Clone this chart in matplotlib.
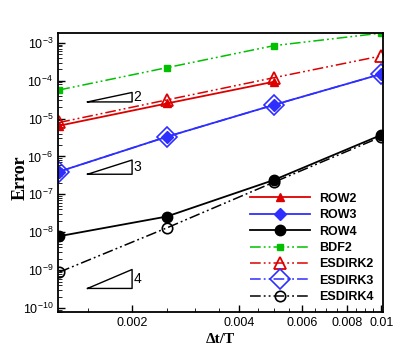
import matplotlib
matplotlib.use('Agg')
import matplotlib.pyplot as plt
import matplotlib.ticker as mticker
import numpy as np

# data
dt = [0.00125, 0.0025, 0.005, 0.01]
row2 = [6.5e-6, 2.5e-5, 9.4e-5]
row3 = [4.0e-7, 3.3e-6, 2.3e-5, 1.5e-4]
row4 = [7.9e-9, 2.6e-8, 2.4e-7, 3.7e-6]
bdf2 = [5.7e-5, 2.2e-4, 8.4e-4, 1.8e-3]
esdirk2 = [7.9e-6, 3.1e-5, 1.2e-4, 4.5e-4]
esdirk3 = [4.0e-7, 3.3e-6, 2.3e-5, 1.5e-4]
esdirk4 = [8.9e-10, 1.3e-8, 2.1e-7, 3.3e-6]

# slope triangles: (order, base error)
tri_x = [0.0015, 0.002]
triangles = [(2, 2.75e-5), (3, 3.4e-7), (4, 3.3e-10)]

red = '#dd0000'
blue = '#2e2eff'
green = '#00c000'
dd = (0, (7, 2, 1.2, 2, 1.2, 2))

plt.rcParams['font.family'] = ['Liberation Sans', 'DejaVu Sans']
plt.rcParams['mathtext.fontset'] = 'custom'
plt.rcParams['mathtext.rm'] = 'Liberation Sans'
plt.rcParams['mathtext.it'] = 'Liberation Sans:italic'
plt.rcParams['mathtext.bf'] = 'Liberation Sans:bold'

fig = plt.figure(figsize=(4.06, 3.54), dpi=100)
ax = fig.add_axes([0.143, 0.119, 0.800, 0.788])

ax.plot(dt[:3], row2, color=red, lw=1.3, marker='^', ms=6, label='ROW2')
ax.plot(dt, row3, color=blue, lw=1.3, marker='D', ms=6, label='ROW3')
ax.plot(dt, row4, color='black', lw=1.3, marker='o', ms=7.5, label='ROW4')
ax.plot(dt, bdf2, color=green, lw=1.1, ls=dd, marker='s', ms=5, label='BDF2')
ax.plot(dt, esdirk2, color=red, lw=1.1, ls=dd, marker='^', ms=8, mfc='none',
        mew=1.3, label='ESDIRK2')
ax.plot(dt, esdirk3, color=blue, lw=1.1, ls=dd, marker='D', ms=10, mfc='none',
        mew=1.2, label='ESDIRK3')
ax.plot(dt, esdirk4, color='black', lw=1.1, ls=dd, marker='o', ms=7.5, mfc='none',
        mew=1.2, label='ESDIRK4')

for order, base in triangles:
    top = base * (tri_x[1] / tri_x[0]) ** order
    ax.plot([tri_x[0], tri_x[1], tri_x[1], tri_x[0]], [base, base, top, base],
            color='black', lw=1.0)
    ax.text(tri_x[1] * 1.01, np.sqrt(base * top), str(order), fontsize=10,
            va='center', ha='left')

ax.set_xscale('log')
ax.set_yscale('log')
ax.set_xlim(0.00124, 0.0101)
ax.set_ylim(10 ** -10.1, 10 ** -2.74)

ax.xaxis.set_major_locator(mticker.FixedLocator([0.002, 0.004, 0.006, 0.008, 0.01]))
ax.xaxis.set_major_formatter(mticker.FixedFormatter(['0.002', '0.004', '0.006', '0.008', '0.01']))
minors = [v / 10000 for v in range(15, 100, 5) if v % 20 != 0]
ax.xaxis.set_minor_locator(mticker.FixedLocator(minors))
ax.xaxis.set_minor_formatter(mticker.NullFormatter())

ydec = list(range(-10, -2))
ax.yaxis.set_major_locator(mticker.FixedLocator([10.0 ** e for e in ydec]))
ax.yaxis.set_major_formatter(mticker.FixedFormatter([r'$10^{%d}$' % e for e in ydec]))
ymin = [m * 10.0 ** e for e in range(-11, -2) for m in range(2, 10)]
ax.yaxis.set_minor_locator(mticker.FixedLocator(ymin))
ax.yaxis.set_minor_formatter(mticker.NullFormatter())

ax.tick_params(which='both', direction='in', labelsize=9, top=False, right=False)
ax.tick_params(which='major', length=5, width=1)
ax.tick_params(which='minor', length=3, width=0.6)
for s in ax.spines.values():
    s.set_linewidth(1.3)

serif = ['Liberation Serif', 'DejaVu Serif']
ax.set_xlabel('Δt/T', family=serif, fontsize=11, fontweight='bold', labelpad=3)
ax.set_ylabel('Error', family=serif, fontsize=13, fontweight='bold')
ax.yaxis.set_label_coords(-0.09, 0.48)

leg = ax.legend(loc='lower right', frameon=False, handlelength=4.8,
                prop={'weight': 'bold', 'size': 9}, labelspacing=0.35,
                borderaxespad=0.3, handletextpad=0.8)

plt.savefig('out.png', dpi=100)
